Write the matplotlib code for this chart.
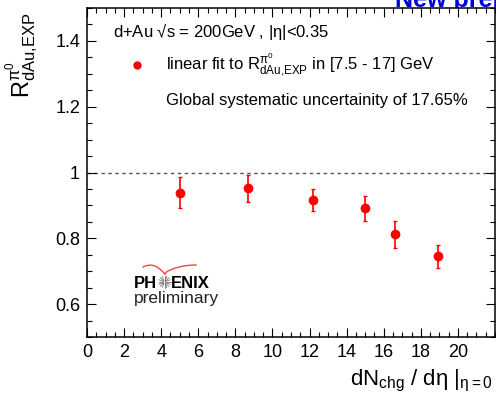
import numpy as np
import matplotlib
matplotlib.use("Agg")
import matplotlib.pyplot as plt
from matplotlib.ticker import MultipleLocator

plt.rcParams.update(
    {
        "font.family": ["Liberation Sans", "DejaVu Sans"],
        "mathtext.fontset": "custom",
        "mathtext.rm": "Liberation Sans",
        "mathtext.it": "Liberation Sans:italic",
        "mathtext.bf": "Liberation Sans:bold",
        "mathtext.default": "regular",
    }
)

# charged multiplicity bins and fitted nuclear modification factor
dn_deta = [5.0, 8.7, 12.2, 15.0, 16.6, 18.9]
r_dau = [0.938, 0.952, 0.916, 0.891, 0.812, 0.745]
r_err = [0.047, 0.041, 0.033, 0.037, 0.041, 0.034]
x_ticks = [0, 2, 4, 6, 8, 10, 12, 14, 16, 18, 20]
y_ticks = [0.6, 0.8, 1.0, 1.2, 1.4]
y_tick_labels = ["0.6", "0.8", "1", "1.2", "1.4"]

W, H = 496, 403
fig = plt.figure(figsize=(W / 100, H / 100), dpi=100)
ax = fig.add_axes([87 / W, 1 - 337 / H, (495 - 87) / W, (337 - 8) / H])

ax.axhline(1.0, color="#555555", lw=1.0, ls=(0, (2.5, 2.5)), zorder=1)
ax.errorbar(dn_deta, r_dau, yerr=r_err, fmt="o", color="#ff0000", ms=6,
            elinewidth=1.2, capsize=1.5, capthick=1.0, zorder=3)

ax.set_xlim(0, 22)
ax.set_ylim(0.5, 1.5)
ax.set_xticks(x_ticks)
ax.xaxis.set_minor_locator(MultipleLocator(0.5))
ax.set_yticks(y_ticks)
ax.set_yticklabels(y_tick_labels)
ax.yaxis.set_minor_locator(MultipleLocator(0.05))
ax.tick_params(which="both", direction="in", top=True, right=True,
               labelsize=13, width=0.8)
ax.tick_params(which="major", length=6.5, pad=5)
ax.tick_params(which="minor", length=3.5)
for s in ax.spines.values():
    s.set_linewidth(1.1)

# header and legend block
fs = 12
fig.text(113 / W, 1 - 32 / H, r"d+Au √s = 200GeV , |$\eta$|<0.35",
         fontsize=fs, va="center")
fig.add_artist(plt.Line2D([137 / W], [1 - 65 / H], marker="o", color="#ff0000", ms=5))
fig.text(166 / W, 1 - 65 / H,
         r"linear fit to R$^{\pi^{0}}_{dAu{,}EXP}$ in [7.5 - 17] GeV",
         fontsize=fs, va="center")
fig.text(166 / W, 1 - 101 / H, "Global systematic uncertainity of 17.65%",
         fontsize=fs, va="center")

# PHENIX preliminary logo
fig.text(134 / W, 1 - 283 / H, "PH", fontsize=12, fontweight="bold", va="center")
fig.text(171 / W, 1 - 283 / H, "ENIX", fontsize=12, fontweight="bold", va="center")
fig.text(134 / W, 1 - 298 / H, "preliminary", fontsize=12.5, va="center",
         color="#222222")
cx, cy = 164.5, 282
for ang in np.linspace(0, 2 * np.pi, 16, endpoint=False):
    fig.add_artist(plt.Line2D([(cx + 1.5 * np.cos(ang)) / W, (cx + 6 * np.cos(ang)) / W],
                              [1 - (cy + 1.5 * np.sin(ang)) / H, 1 - (cy + 6 * np.sin(ang)) / H],
                              color="#777777", lw=0.6))
t = np.linspace(0, 1, 30)
lx = 143 + (165 - 143) * t
ly = 267 - 3 * np.sin(np.pi * t) + 7 * t ** 2
rx = 165 + (196 - 165) * t
ry = 274 - 9 * np.sin(np.pi * t / 2) ** 0.6
fig.add_artist(plt.Line2D(lx / W, 1 - ly / H, color="#ff4040", lw=1.0))
fig.add_artist(plt.Line2D(rx / W, 1 - ry / H, color="#ff4040", lw=1.0))

# axis titles
fig.text(493 / W, 1 - 385 / H,
         r"dN$_{chg}$ / d$\eta$ |$_{\eta{=}0}$",
         fontsize=16, ha="right", va="baseline")
fig.text(22 / W, 1 - 12 / H, r"R$^{\pi^{0}}_{dAu{,}EXP}$",
         fontsize=17, rotation=90, ha="center", va="top")

fig.text(395 / W, 1 - 7 / H, "New preliminary", fontsize=18, fontweight="bold",
         color="#0000dd", va="baseline", zorder=-1)

fig.savefig("out.png", dpi=100)
